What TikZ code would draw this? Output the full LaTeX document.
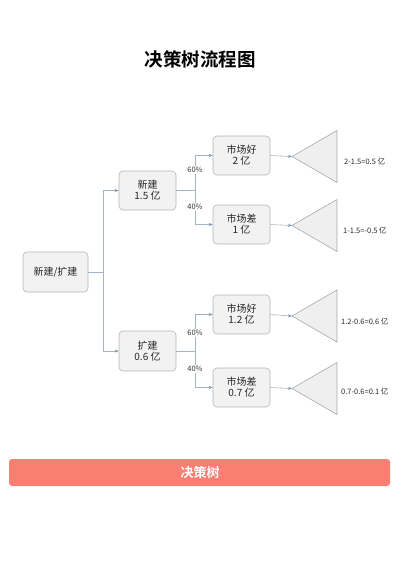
\documentclass[tikz,border=0pt]{standalone}
\usepackage{fontspec}
\setmainfont{Noto Sans CJK SC}[BoldFont={Noto Sans CJK SC Bold}]
\usetikzlibrary{arrows.meta}
\definecolor{boxfill}{HTML}{F2F2F2}
\definecolor{boxline}{HTML}{B5B5B5}
\definecolor{conn}{HTML}{A8B3C0}
\definecolor{tip}{HTML}{7F8FA6}
\definecolor{trifill}{HTML}{EFEFEF}
\definecolor{trline}{HTML}{A9A9A9}
\definecolor{bar}{HTML}{F87F71}
\tikzset{
  box/.style={draw=boxline, fill=boxfill, rounded corners=4pt, line width=0.6pt,
    minimum width=57pt, minimum height=39pt, align=center, font=\fontsize{10}{11}\selectfont, text=black!85, inner sep=1pt},
  connline/.style={draw=conn, line width=0.6pt},
  arr/.style={connline, -{Stealth[length=4pt,width=3pt,color=tip]}},
  prob/.style={fill=white, inner sep=0.8pt, font=\fontsize{7.5}{8}\selectfont, text=black!80},
  tri/.style={draw=trline, fill=trifill, line width=0.6pt},
  res/.style={anchor=west, font=\fontsize{7.5}{8}\selectfont, text=black!85, inner sep=0pt}
}
\begin{document}
\begin{tikzpicture}[x=1pt,y=-1pt]
\useasboundingbox (0,0) rectangle (400,566);
\node (title) at (200,59) {\fontsize{18.5}{20}\selectfont\bfseries 决策树流程图};

\node[box, minimum width=65pt, minimum height=40pt] (root) at (55.5,272) {新建/扩建};
\node[box] (n1) at (147.5,190.5) {新建\\1.5 亿};
\node[box, minimum height=40pt] (n2) at (147.5,351) {扩建\\0.6 亿};
\node[box] (m1) at (241.5,155.5) {市场好\\2 亿};
\node[box] (m2) at (241.5,224.5) {市场差\\1 亿};
\node[box] (m3) at (241.5,314.5) {市场好\\1.2 亿};
\node[box] (m4) at (241.5,387.5) {市场差\\0.7 亿};

% junctions
\coordinate (j0) at (103,272);
\coordinate (j1) at (195,190.5);
\coordinate (j2) at (195,351);

\draw[connline] (root.east) -- (j0);
\draw[arr] (j0) |- (n1.west);
\draw[arr] (j0) |- (n2.west);
\draw[connline] (n1.east) -- (j1);
\draw[arr] (j1) |- (m1.west);
\draw[arr] (j1) |- (m2.west);
\draw[connline] (n2.east) -- (j2);
\draw[arr] (j2) |- (m3.west);
\draw[arr] (j2) |- (m4.west);

\node[prob] (p1) at (195,170) {60\%};
\node[prob] (p2) at (195,207) {40\%};
\node[prob] (p3) at (195,333) {60\%};
\node[prob] (p4) at (195,369) {40\%};

% triangles
\coordinate (t1) at (292,156.5);
\coordinate (t2) at (292,225.5);
\coordinate (t3) at (292,316);
\coordinate (t4) at (292,388.5);
\foreach \t in {t1,t2,t3,t4}{
  \draw[tri] (\t) -- ++(45,-26) -- ++(0,52) -- cycle;
}
\draw[arr] (m1.east) -- (t1);
\draw[arr] (m2.east) -- (t2);
\draw[arr] (m3.east) -- (t3);
\draw[arr] (m4.east) -- (t4);

\node[res] (r1) at (344,162) {2-1.5=0.5 亿};
\node[res] (r2) at (343,231) {1-1.5=-0.5 亿};
\node[res] (r3) at (341,322) {1.2-0.6=0.6 亿};
\node[res] (r4) at (341,392) {0.7-0.6=0.1 亿};

\fill[bar, rounded corners=3pt] (9,459) rectangle (390,486);
\node[text=white, font=\fontsize{13}{14}\selectfont\bfseries] (bartext) at (200,472.5) {决策树};
\end{tikzpicture}
\end{document}
